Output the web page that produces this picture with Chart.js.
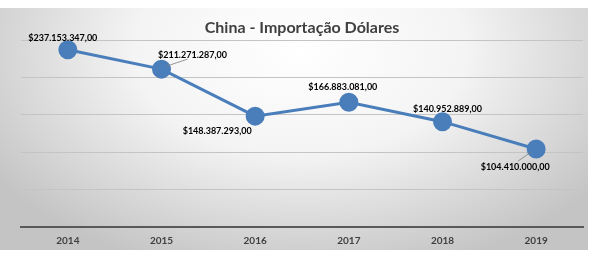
<!DOCTYPE html>
<html>
<head>
<meta charset="utf-8">
<script src="https://cdn.jsdelivr.net/npm/chart.js@4"></script>
<style>
  html, body { margin: 0; padding: 0; background: #fff; }
  #wrap { width: 596px; height: 259px; }
</style>
</head>
<body>
<div id="wrap"><canvas id="chart" width="596" height="259"></canvas></div>
<script>
// Data
const years = ["2014", "2015", "2016", "2017", "2018", "2019"];
const imports = [237153347, 211271287, 148387293, 166883081, 140952889, 104410000];
const valueLabels = ["$237.153.347,00", "$211.271.287,00", "$148.387.293,00", "$166.883.081,00", "$140.952.889,00", "$104.410.000,00"];
// label offsets from the point (px), and whether a leader line is drawn
const labelOffsets = [[-5, -12], [31, -14], [-38, 15], [-6, -15], [5, -13], [-21, 18]];
const leaders = [false, true, false, false, false, true];

/* Background panel with soft radial shading */
const backdrop = {
  id: "backdrop",
  beforeDraw(chart) {
    const { ctx } = chart;
    ctx.save();
    ctx.fillStyle = "#ffffff";
    ctx.fillRect(0, 0, chart.width, chart.height);
    ctx.beginPath();
    ctx.rect(0, 8, 588, 243);
    ctx.clip();
    ctx.translate(300, 50);
    ctx.scale(1.6, 1);
    const g = ctx.createRadialGradient(0, 0, 0, 0, 0, 230);
    g.addColorStop(0, "#ffffff");
    g.addColorStop(0.45, "#f4f4f4");
    g.addColorStop(1, "#c4c4c4");
    ctx.fillStyle = g;
    ctx.fillRect(-200, -60, 400, 260);
    ctx.restore();
  },
};

/* Data labels with short leader lines */
const pointLabels = {
  id: "pointLabels",
  afterDatasetsDraw(chart) {
    const { ctx } = chart;
    const pts = chart.getDatasetMeta(0).data;
    ctx.save();
    ctx.font = "bold 9px Lato";
    ctx.fillStyle = "#000000";
    ctx.textAlign = "center";
    ctx.textBaseline = "middle";
    pts.forEach((p, i) => {
      const [dx, dy] = labelOffsets[i];
      const tx = p.x + dx, ty = p.y + dy;
      if (leaders[i]) {
        ctx.strokeStyle = "#7f7f7f";
        ctx.lineWidth = 0.8;
        ctx.beginPath();
        if (dx > 0) { ctx.moveTo(p.x + 5, p.y - 3); ctx.lineTo(tx - 5, ty + 4); }
        else { ctx.moveTo(p.x - 5, p.y + 3); ctx.lineTo(tx + 3, ty - 6); }
        ctx.stroke();
      }
      ctx.fillText(valueLabels[i], tx, ty);
    });
    ctx.restore();
  },
};

new Chart(document.getElementById("chart"), {
  type: "line",
  data: {
    labels: years,
    datasets: [{
      data: imports,
      borderColor: "#4a7ebb",
      backgroundColor: "#4a7ebb",
      borderWidth: 3,
      pointRadius: 8,
      pointHoverRadius: 8,
      tension: 0,
    }],
  },
  options: {
    responsive: false,
    animation: false,
    layout: { padding: { left: 21, right: 13, top: 0, bottom: 12 } },
    plugins: {
      legend: { display: false },
      tooltip: { enabled: false },
      title: {
        display: true,
        text: "China - Importação Dólares",
        color: "#404040",
        font: { family: "Lato", size: 16, weight: "bold" },
        padding: { top: 18, bottom: 3 },
      },
    },
    scales: {
      x: {
        offset: true,
        grid: { display: false },
        border: { color: "#595959", width: 2 },
        ticks: { color: "#404040", font: { family: "Lato", size: 10, weight: "bold" }, padding: 0 },
      },
      y: {
        min: 0,
        max: 250000000,
        ticks: { display: false, stepSize: 50000000 },
        grid: { color: "#c4c4c4", lineWidth: 1, drawTicks: false },
        border: { display: false },
      },
    },
  },
  plugins: [backdrop, pointLabels],
});
</script>
</body>
</html>
